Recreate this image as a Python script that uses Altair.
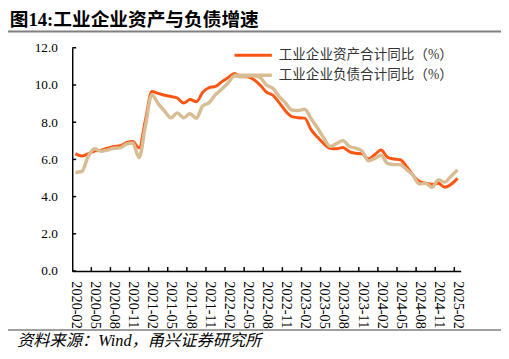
import altair as alt
import pandas as pd

# ---- data -------------------------------------------------------------
months = [
    "2020-02", "2020-03", "2020-04", "2020-05", "2020-06", "2020-07", "2020-08", "2020-09", "2020-10", "2020-11", "2020-12",
    "2021-01", "2021-02", "2021-03", "2021-04", "2021-05", "2021-06", "2021-07", "2021-08", "2021-09", "2021-10", "2021-11", "2021-12",
    "2022-01", "2022-02", "2022-03", "2022-04", "2022-05", "2022-06", "2022-07", "2022-08", "2022-09", "2022-10", "2022-11", "2022-12",
    "2023-01", "2023-02", "2023-03", "2023-04", "2023-05", "2023-06", "2023-07", "2023-08", "2023-09", "2023-10", "2023-11", "2023-12",
    "2024-01", "2024-02", "2024-03", "2024-04", "2024-05", "2024-06", "2024-07", "2024-08", "2024-09", "2024-10", "2024-11", "2024-12",
    "2025-01", "2025-02",
]
assets = [
    6.31, 6.18, 6.30, 6.45, 6.50, 6.60, 6.70, 6.73, 6.90, 6.96, 6.62,
    8.13, 9.65, 9.55, 9.45, 9.38, 9.30, 9.03, 9.22, 9.10, 9.61, 9.86, 9.92,
    10.18, 10.40, 10.62, 10.45, 10.44, 10.30, 10.00, 9.62, 9.45, 9.05, 8.60, 8.30,
    8.24, 8.22, 7.60, 7.20, 6.85, 6.60, 6.57, 6.64, 6.42, 6.33, 6.30, 6.02,
    6.25, 6.50, 6.12, 6.02, 5.98, 5.62, 5.15, 4.82, 4.72, 4.66, 4.72, 4.50,
    4.66, 4.98,
]
liabilities = [
    5.30, 5.35, 6.15, 6.57, 6.44, 6.50, 6.60, 6.62, 6.82, 6.88, 6.10,
    7.81, 9.48, 9.00, 8.60, 8.24, 8.50, 8.24, 8.45, 8.21, 8.88, 9.05, 9.48,
    9.78, 10.12, 10.50, 10.44, 10.48, 10.50, 10.40, 10.00, 9.82, 9.38, 9.03, 8.65,
    8.63, 8.70, 8.20, 7.70, 7.15, 6.70, 6.85, 7.01, 6.70, 6.60, 6.45, 5.92,
    6.05, 6.22, 5.78, 5.72, 5.72, 5.45, 5.15, 4.68, 4.72, 4.50, 4.90, 4.78,
    5.10, 5.43,
]
series_names = ["工业企业资产合计同比（%）", "工业企业负债合计同比（%）"]
y_values = [0, 2, 4, 6, 8, 10, 12]
tick_labels = months[::3]
title_text = "图14:工业企业资产与负债增速"
source_text = "资料来源：Wind，甬兴证券研究所"

# ---- style ------------------------------------------------------------
ORANGE = "#FF5512"
TAN = "#D8BC94"
W, H = 395, 227
SERIF = "Liberation Serif, Noto Sans CJK SC"

idx = list(range(len(months)))
df = pd.DataFrame({"i": idx, "month": months, "assets": assets, "liab": liabilities})
xticks_df = pd.DataFrame({"pos": [k * 3 - 0.5 for k in range(1, len(tick_labels))]})
yticks_df = pd.DataFrame({"v": y_values})

label_arr = "[" + ",".join("'%s'" % t for t in tick_labels) + "]"
xscale = alt.Scale(domain=[-0.5, len(months) - 0.5], nice=False, zero=False)
yscale = alt.Scale(domain=[0, 12], nice=False)
xaxis = alt.Axis(values=list(range(0, len(months), 3)), labelExpr=label_arr + "[round(datum.value/3)]",
                 labelAngle=90, labelPadding=10, labelFontSize=14.5, title=None)
yaxis = alt.Axis(values=y_values, format=".1f", labelPadding=15, title=None)

base = alt.Chart(df)
line_a = base.mark_line(color=ORANGE, strokeWidth=3, interpolate="monotone").encode(
    x=alt.X("i:Q", scale=xscale, axis=xaxis),
    y=alt.Y("assets:Q", scale=yscale, axis=yaxis),
)
line_l = base.mark_line(color=TAN, strokeWidth=3.5, interpolate="monotone").encode(
    x=alt.X("i:Q", scale=xscale, axis=xaxis),
    y=alt.Y("liab:Q", scale=yscale, axis=yaxis),
)

xt = alt.Chart(xticks_df).mark_rule(color="black", strokeWidth=1.5).encode(
    x=alt.X("pos:Q", scale=xscale, axis=xaxis),
    y=alt.value(H), y2=alt.value(H - 4),
)
yt = alt.Chart(yticks_df).mark_rule(color="black", strokeWidth=1.5).encode(
    y=alt.Y("v:Q", scale=yscale, axis=yaxis),
    x=alt.value(0), x2=alt.value(4),
)

one = pd.DataFrame({"d": [0]})
leg_layers = []
for k, (name, col, sw) in enumerate(zip(series_names, [ORANGE, TAN], [3, 3.5])):
    yy = 7.5 + 20.5 * k
    leg_layers.append(alt.Chart(one).mark_rule(color=col, strokeWidth=sw).encode(
        x=alt.value(165), x2=alt.value(203), y=alt.value(yy)))
    leg_layers.append(alt.Chart(pd.DataFrame({"t": [name]})).mark_text(
        align="left", baseline="middle", font=SERIF, fontSize=13.8, color="#333333").encode(
        x=alt.value(210), y=alt.value(yy), text="t:N"))

title = alt.Chart(pd.DataFrame({"t": [title_text]})).mark_text(
    align="left", baseline="middle", font=SERIF, fontSize=19, fontWeight="bold", color="black").encode(
    x=alt.value(-63.5), y=alt.value(-28), text="t:N")
top_line = alt.Chart(one).mark_rule(color="#7F7F7F", strokeWidth=2).encode(
    x=alt.value(-66), x2=alt.value(436), y=alt.value(-16.5))
bot_line = alt.Chart(one).mark_rule(color="#7F7F7F", strokeWidth=1.5).encode(
    x=alt.value(-66), x2=alt.value(436), y=alt.value(287))
source = alt.Chart(pd.DataFrame({"t": [source_text]})).mark_text(
    align="left", baseline="middle", font=SERIF, fontSize=16.5, fontStyle="italic", color="black").encode(
    x=alt.value(-56), y=alt.value(298), text="t:N")

chart = alt.layer(line_a, line_l, xt, yt, *leg_layers, title, top_line, bot_line, source).properties(
    width=W, height=H,
    autosize=alt.AutoSizeParams(type="none"),
    padding={"left": 65.3, "top": 37.5, "right": 41, "bottom": 86},
).configure_view(stroke=None).configure_axis(
    grid=False, ticks=False, tickSize=0, domainColor="black", domainWidth=1.5,
    labelFont="Liberation Serif", labelFontSize=13.5, labelColor="black",
)

chart.save("out.html", embed_options={"renderer": "svg", "actions": False})
